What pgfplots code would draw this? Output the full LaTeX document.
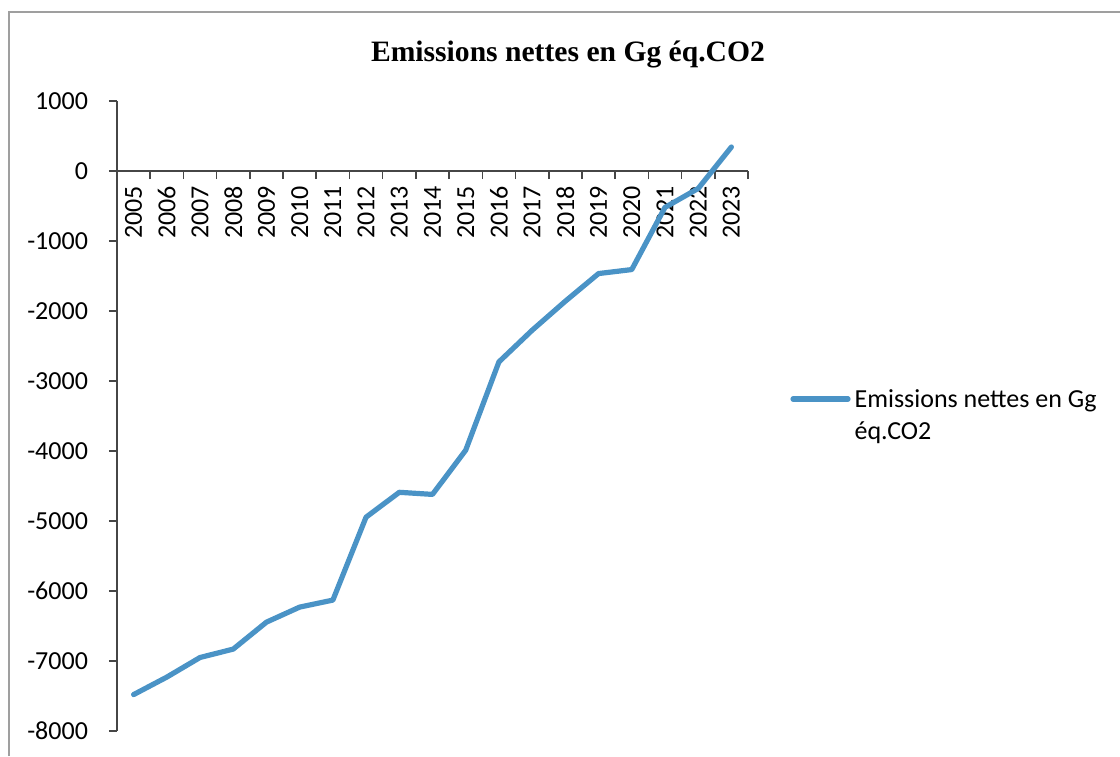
\documentclass[border=0pt]{standalone}
\usepackage{fontspec}
\setmainfont{Carlito}
\newfontfamily\titlefont{Liberation Serif}
\usepackage{pgfplots}
\pgfplotsset{compat=1.18}
\definecolor{linecol}{RGB}{74,147,198}
\definecolor{axcol}{RGB}{70,70,70}
\begin{document}
\begin{tikzpicture}
\path[use as bounding box] (0pt,0pt) rectangle (560pt,378pt);
\draw[gray!75, line width=1pt] (4.5pt,0pt) -- (4.5pt,372pt) -- (560pt,372pt);
\node[font=\titlefont\bfseries\fontsize{14.8}{18}\selectfont, anchor=base] at (284pt,347pt) {Emissions nettes en Gg éq.CO2};
\begin{axis}[
  at={(58.5pt,12.5pt)}, anchor=south west,
  scale only axis, width=315.5pt, height=315pt,
  xmin=-0.5, xmax=18.5, ymin=-8000, ymax=1000,
  axis x line=middle, axis y line=left,
  axis line style={axcol, line width=0.8pt, -},
  tick align=outside,
  major tick length=4pt, minor tick length=4pt,
  xtick={0,...,18},
  xticklabels={2005,2006,2007,2008,2009,2010,2011,2012,2013,2014,2015,2016,2017,2018,2019,2020,2021,2022,2023},
  minor xtick={-0.5,0.5,...,18.5},
  every major x tick/.style={draw=none},
  every minor x tick/.style={axcol, line width=0.8pt},
  every major y tick/.style={axcol, line width=0.8pt},
  ytick={-8000,-7000,...,1000},
  /pgf/number format/assume math mode=true,
  /pgf/number format/1000 sep={},
  x tick label style={rotate=90, anchor=east, font=\fontsize{13}{15}\selectfont},
  y tick label style={font=\fontsize{13}{15}\selectfont, xshift=-7pt},
  legend style={at={(1.0666,0.529)}, anchor=west, draw=none, fill=none, inner sep=0pt,
    cells={anchor=base west, inner xsep=1.5pt}, font=\fontsize{13}{16}\selectfont},
  legend image code/.code={\draw[#1] (0pt,4.2pt) -- (27.5pt,4.2pt);},
]
\addplot[linecol, line width=2.6pt, line join=round, line cap=round] coordinates {
(0,-7480) (1,-7230) (2,-6950) (3,-6830) (4,-6445) (5,-6230) (6,-6130)
(7,-4945) (8,-4590) (9,-4620) (10,-3988) (11,-2727) (12,-2275) (13,-1860)
(14,-1465) (15,-1408) (16,-520) (17,-250) (18,343)
};
\addlegendentry{\begin{tabular}[t]{@{}l@{}}Emissions nettes en Gg\\éq.CO2\end{tabular}}
\end{axis}
\end{tikzpicture}
\end{document}
